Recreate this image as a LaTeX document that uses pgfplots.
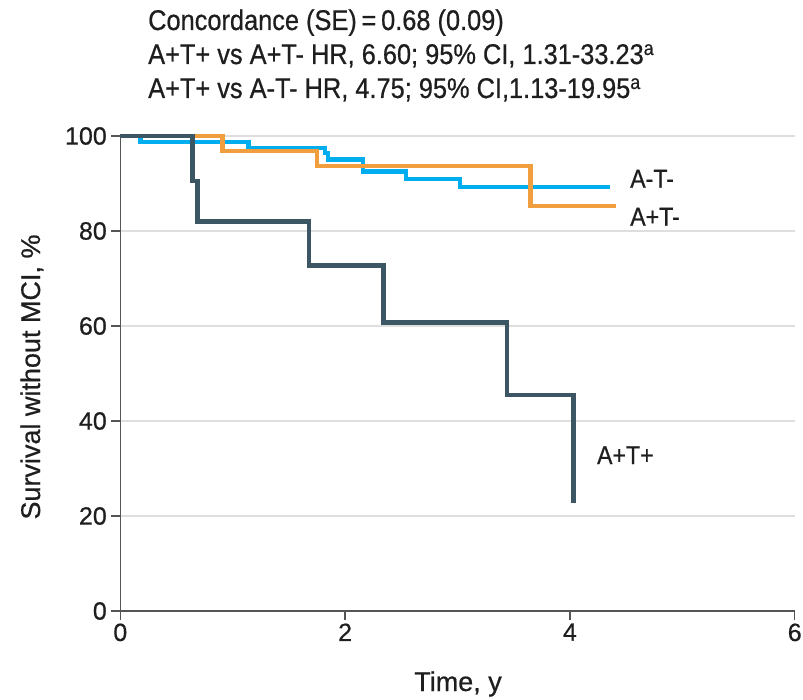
\documentclass[border=0pt]{standalone}
\usepackage{fontspec}
\setmainfont[FakeStretch=0.89, FakeBold=0.6]{Liberation Sans}
\newfontfamily\labfont[FakeBold=0.6]{Liberation Sans}
\usepackage{pgfplots}
\pgfplotsset{compat=1.18}
\definecolor{darkc}{RGB}{61,86,99}
\definecolor{orangec}{RGB}{240,158,62}
\definecolor{bluec}{RGB}{0,174,239}
\definecolor{axisc}{RGB}{85,85,85}
\definecolor{gridc}{RGB}{222,222,222}
\definecolor{textc}{RGB}{30,30,30}
\begin{document}
\begin{tikzpicture}[x=1pt,y=1pt, every node/.style={text=textc}]
\path[use as bounding box] (0,0) rectangle (803,699);
\begin{axis}[
  at={(120.3pt,88pt)}, anchor=south west,
  scale only axis, width=674.4pt, height=475pt,
  xmin=0, xmax=6, ymin=0, ymax=100,
  axis x line=bottom, axis y line=left,
  axis line style={draw=axisc, line width=1.3pt, -},
  xtick={0,2,4,6}, ytick={0,20,40,60,80,100},
  tick align=outside, major tick length=9pt,
  tick style={draw=axisc, line width=1.3pt},
  ymajorgrids, grid style={draw=gridc, line width=1.5pt},
  /pgf/number format/assume math mode=true,
  ticklabel style={font=\labfont\fontsize{25}{28}\selectfont, text=textc},
  yticklabel style={xshift=-1pt},
  clip=false,
]
\addplot[const plot, bluec, line width=4.5pt] coordinates {
(0,100) (0.18,98.7) (1.14,97.5) (1.82,96.4) (1.85,95.1) (2.16,92.5) (2.54,90.9) (3.02,89.3) (4.36,89.3)};
\addplot[const plot, orangec, line width=4.5pt] coordinates {
(0,100) (0.91,96.8) (1.75,93.7) (3.65,85.3) (4.41,85.3)};
\addplot[const plot, darkc, line width=4.5pt] coordinates {
(0,100) (0.644,90.5) (0.685,82.0) (1.68,72.7) (2.34,60.7) (3.44,45.5) (4.03,22.7)};
\node[anchor=west, inner sep=0pt, font=\fontsize{26}{30}\selectfont] at (axis cs:4.535,91.0) {A-T-};
\node[anchor=west, inner sep=0pt, font=\fontsize{26}{30}\selectfont] at (axis cs:4.535,83.0) {A+T-};
\node[anchor=west, inner sep=0pt, font=\fontsize{26}{30}\selectfont] at (axis cs:4.24,32.8) {A+T+};
\end{axis}
\begin{scope}[every node/.style={text=textc, inner sep=0pt, anchor=base west, font=\fontsize{28.5}{32}\selectfont}]
\node at (148,699-30) {Concordance (SE)\,=\,0.68 (0.09)};
\node at (148,699-64) {A+T+ vs A+T- HR, 6.60; 95\% CI, 1.31-33.23\textsuperscript{a}};
\node at (148,699-98) {A+T+ vs A-T- HR, 4.75; 95\% CI,1.13-19.95\textsuperscript{a}};
\end{scope}
\node[rotate=90, anchor=base, inner sep=0pt, font=\labfont\fontsize{27}{30}\selectfont] at (40,699-377) {Survival without MCI, \%};
\node[anchor=base, inner sep=0pt, font=\labfont\fontsize{27}{30}\selectfont] at (458,699-691) {Time, y};
\end{tikzpicture}
\end{document}
